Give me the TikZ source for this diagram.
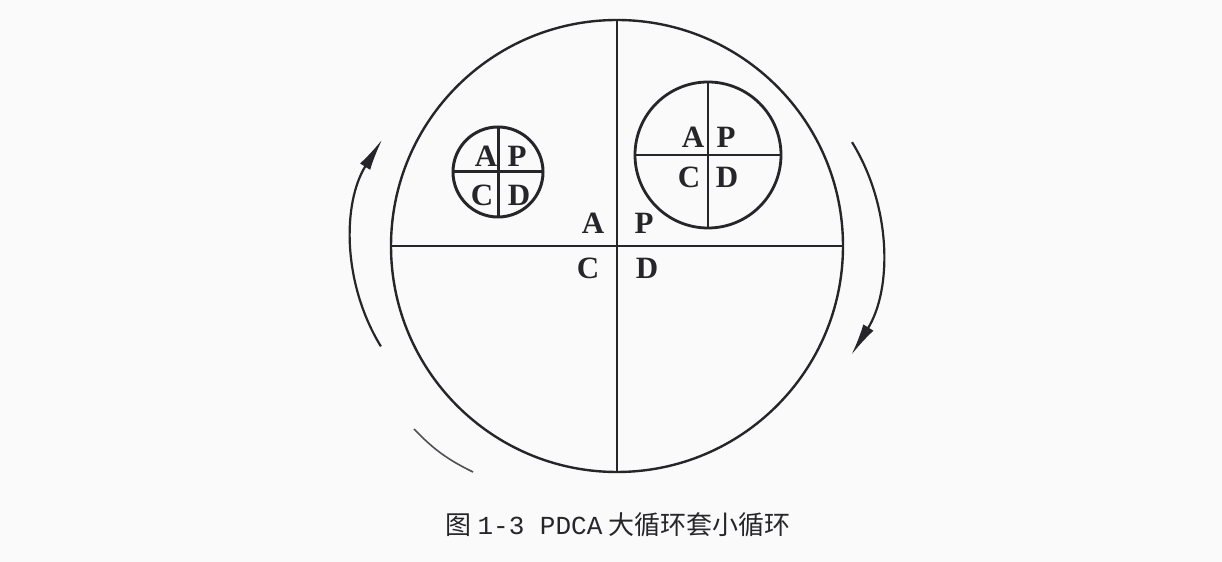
\documentclass[tikz,border=0pt]{standalone}
\usepackage{fontspec}
\setmainfont{Liberation Serif}
\newfontfamily\cjk{Noto Sans CJK SC}
\newfontfamily\capmono{Liberation Mono}
\usepackage{tikz}
\usetikzlibrary{arrows.meta,calc,positioning}
\definecolor{ink}{RGB}{38,38,42}
\definecolor{paper}{RGB}{250,250,250}

\begin{document}
\begin{tikzpicture}[x=0.5pt, y=0.5pt, every node/.style={inner sep=0pt, outer sep=0pt}]
\tikzstyle{ring}=[draw=ink, circle, line width=1.2pt]
\tikzstyle{lbl}=[text=ink, font=\fontsize{15.5}{15.5}\selectfont\bfseries]
\tikzstyle{cycle}=[draw=ink, line width=1.1pt, -{Latex[length=16pt,width=6pt]}]

\fill [paper] (0,0) rectangle (1222,562);
\useasboundingbox (0,0) rectangle (1222,562);

% big loop
\node [ring, minimum size=226pt] (big) at (617,316) {};
\draw [ink, line width=1.2pt] (big.west) -- (big.east) (big.north) -- (big.south);
\node [lbl] (bigA) at ($(big.center)+(-24,23)$) {A};
\node [lbl] (bigP) at ($(big.center)+(27,23)$) {P};
\node [lbl] (bigC) at ($(big.center)+(-29,-22)$) {C};
\node [lbl] (bigD) at ($(big.center)+(30,-22)$) {D};

% small loops
\node [ring, line width=1.5pt, minimum size=45pt] (small) at (498,390) {};
\draw [ink, line width=1.5pt] (small.west) -- (small.east) (small.north) -- (small.south);
\node [lbl] (smallA) at ($(small.center)+(-12,16)$) {A};
\node [lbl] (smallP) at ($(small.center)+(19,16)$) {P};
\node [lbl] (smallC) at ($(small.center)+(-16,-23)$) {C};
\node [lbl] (smallD) at ($(small.center)+(21,-23)$) {D};

\node [ring, line width=1.4pt, minimum size=73pt] (mid) at (708,407) {};
\draw [ink, line width=1.4pt] (mid.west) -- (mid.east) (mid.north) -- (mid.south);
\node [lbl] (midA) at ($(mid.center)+(-15,18)$) {A};
\node [lbl] (midP) at ($(mid.center)+(18,18)$) {P};
\node [lbl] (midC) at ($(mid.center)+(-19,-22)$) {C};
\node [lbl] (midD) at ($(mid.center)+(19,-22)$) {D};

% turning arrows
\coordinate (lpiv) at (548,318);
\coordinate (rpiv) at (680,314);
\draw [cycle] (lpiv) ++(211.5:196) arc (211.5:147.8:196);
\draw [cycle] (rpiv) ++(31.6:202) arc (31.6:-31.9:202);
\draw [ink!80, line width=0.8pt] (414,133) to[bend right=10] (473,90);

\node [text=ink, font=\fontsize{13}{13}\selectfont] (caption) at (618,37)
  {{\cjk 图} {\capmono 1-3 PDCA} {\cjk 大循环套小循环}};
\end{tikzpicture}
\end{document}
